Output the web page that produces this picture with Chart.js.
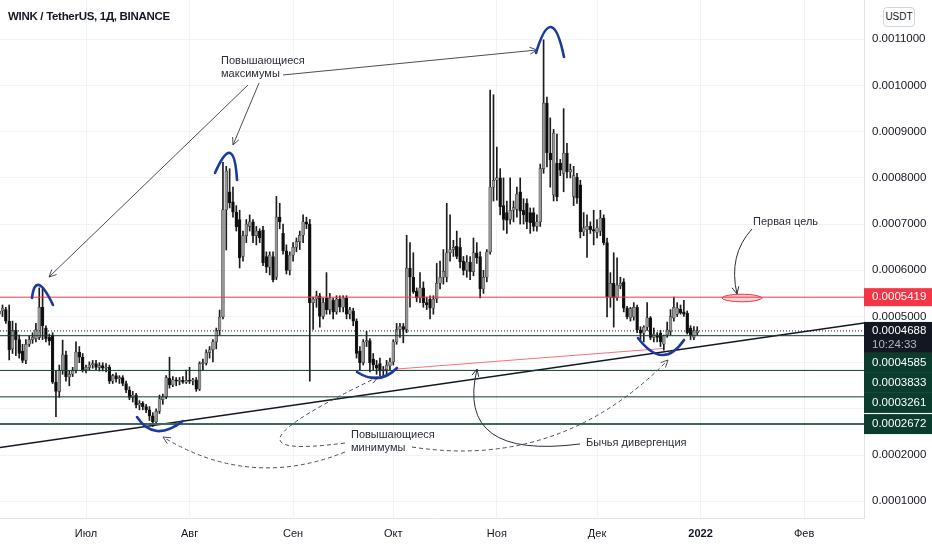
<!DOCTYPE html>
<html lang="ru">
  <head>
    <meta charset="UTF-8" />
    <title>WINK / TetherUS, 1Д, BINANCE</title>
    <script src="https://cdn.jsdelivr.net/npm/chart.js"></script>
    <style>
      body { margin: 0; background: #ffffff; }
      .janela { position: relative; width: 932px; height: 550px; }
      .titulo {
        position: absolute; left: 8px; top: 10px;
        font: bold 11.5px "Liberation Sans", Arial, sans-serif; color: #131722;
        letter-spacing: -0.3px;
      }
      .moeda {
        position: absolute; left: 883px; top: 7px; width: 30px; height: 18px;
        border: 1px solid #d1d4dc; border-radius: 4px; background: #fff;
        font: 10px "Liberation Sans", Arial, sans-serif; color: #131722;
        text-align: center; line-height: 18px;
      }
    </style>
  </head>
  <body>
    <div class="janela">
      <canvas id="myChart" width="932" height="550"></canvas>
      <div class="titulo">WINK / TetherUS, 1Д, BINANCE</div>
      <div class="moeda">USDT</div>
    </div>

<script>
  // preços em unidades de 0.0001 USDT, um candle por dia a partir de 05/06/2021
  var escalaPreco = 1e-4;
  var primeiroDia = -26; // dias contados a partir de 01/07/2021

  var abertura = [
    5.05, 5.12, 5.15, 4.9, 4.3, 4.7, 4.5, 4.25, 4.05, 4.4, 4.5, 4.52, 4.55, 5.2, 4.75, 4.55, 4.6, 3.58, 3.38, 3.84, 4.17, 3.69, 3.75, 3.83, 4.23, 4.12,
    3.85, 3.9, 3.95, 3.98, 3.9, 3.94, 3.88, 3.9, 3.6, 3.72, 3.65, 3.68, 3.55, 3.41, 3.25, 3.3, 3.08, 3.12, 3.05, 2.98, 2.85, 2.72, 2.95, 3.2, 3.26, 3.66, 3.52, 3.63, 3.6, 3.62, 3.58,
    3.62, 3.6, 3.63, 3.43, 3.98, 3.99, 4.22, 4.28, 4.45, 4.7, 4.99, 7.31, 7.7, 7.48, 7.26, 7.1, 6.3, 6.75, 6.95, 7.05, 6.75, 6.85, 6.87, 6.3, 6.07, 6.3, 5.85, 7.15, 6.8, 6.42, 6.0,
    6.33, 6.5, 6.62, 6.76, 7.05, 7.0, 5.3, 5.38, 5.45, 5.0, 5.4, 5.15, 5.35, 5.1, 5.38, 5.2, 5.4, 5.05, 5.12, 4.9, 4.25, 4.0, 4.45, 4.48, 4.08, 3.95, 3.98, 3.82, 3.85, 3.93,
    4.02, 4.45, 4.72, 4.78, 4.72, 6.05, 5.85, 5.55, 5.4, 5.62, 5.3, 5.38, 5.18, 5.38, 5.72, 5.85, 5.85, 6.38, 6.45, 6.52, 6.5, 6.2, 6.0, 6.18, 5.97, 6.38, 6.3, 5.6, 5.85, 6.4, 7.8,
    7.95, 8.0, 7.4, 7.25, 7.1, 7.3, 7.32, 7.7, 7.3, 7.45, 7.25, 7.25, 6.95, 7.05, 8.2, 9.62, 8.54, 7.63, 8.32, 8.32, 8.1, 8.54, 8.13, 7.6, 8.02, 7.85, 6.83, 6.88, 6.95, 6.88,
    6.82, 6.85, 7.13, 6.6, 5.42, 5.72, 5.4, 5.66, 5.75, 5.18, 4.97, 4.99, 5.2, 4.71, 4.64, 4.77, 4.97, 4.55, 4.6, 4.64, 4.4, 4.6, 4.68, 4.97, 5.05, 5.16, 5.1, 5.07, 4.75, 4.55, 4.65
  ];
  var maxima = [
    5.2, 5.25, 5.2, 5.25, 4.9, 4.85, 4.6, 4.4, 4.5, 4.58, 4.65, 4.85, 5.62, 5.6, 4.8, 4.62, 4.65, 3.82, 3.95, 4.49, 4.25, 3.82, 3.9, 4.45, 4.35, 4.2,
    3.95, 4.02, 4.05, 4.05, 4.0, 4.0, 3.98, 3.95, 3.75, 3.78, 3.72, 3.72, 3.6, 3.48, 3.38, 3.34, 3.18, 3.16, 3.1, 3.05, 2.92, 3.0, 3.3, 3.32, 3.72, 4.12, 3.7, 3.68, 3.68, 3.7, 3.84,
    3.9, 3.66, 3.68, 4.02, 4.08, 4.28, 4.35, 4.5, 4.75, 5.14, 8.34, 8.25, 8.2, 7.8, 7.4, 7.3, 6.85, 7.1, 7.2, 7.1, 6.95, 6.9, 6.95, 6.4, 6.4, 6.4, 7.6, 7.45, 7.0, 6.55, 6.4,
    6.6, 6.7, 6.85, 7.2, 7.15, 7.1, 5.42, 5.55, 5.5, 5.4, 5.95, 5.5, 5.4, 5.45, 5.45, 5.45, 5.45, 5.2, 5.18, 4.95, 4.35, 4.5, 4.68, 4.52, 4.2, 4.05, 4.1, 3.92, 4.05, 4.1,
    4.5, 4.85, 4.85, 4.85, 6.76, 6.6, 6.38, 5.62, 5.95, 5.75, 5.42, 5.45, 5.45, 6.15, 6.2, 6.45, 7.45, 7.2, 6.65, 6.85, 6.7, 6.3, 6.32, 6.3, 6.7, 6.6, 6.4, 6.0, 6.45, 9.9, 9.8,
    8.67, 8.2, 8.0, 7.5, 8.0, 7.5, 7.8, 8.0, 7.55, 7.55, 7.35, 7.35, 7.2, 8.3, 10.99, 9.75, 9.3, 9.05, 8.95, 8.4, 9.5, 8.75, 8.3, 8.25, 8.1, 7.95, 7.25, 7.2, 7.05, 7.3,
    7.1, 7.3, 7.2, 6.7, 5.95, 6.38, 6.27, 5.85, 5.82, 5.22, 5.2, 5.3, 5.25, 4.78, 4.8, 5.3, 5.0, 4.75, 4.65, 4.7, 4.6, 4.88, 5.15, 5.42, 5.3, 5.25, 5.35, 5.12, 4.8, 4.78, 4.78
  ];
  var minima = [
    4.9, 5.0, 4.85, 4.06, 4.2, 4.15, 4.1, 4.0, 3.98, 4.35, 4.42, 4.45, 4.5, 4.5, 4.45, 4.38, 3.55, 2.83, 3.25, 3.75, 3.6, 3.5, 3.7, 3.78, 4.0, 3.8,
    3.78, 3.85, 3.88, 3.85, 3.82, 3.82, 3.8, 3.55, 3.55, 3.58, 3.55, 3.5, 3.35, 3.2, 3.15, 3.02, 2.98, 2.98, 2.92, 2.75, 2.62, 2.66, 2.9, 3.1, 3.22, 3.45, 3.48, 3.5, 3.52, 3.55, 3.55,
    3.55, 3.52, 3.38, 3.4, 3.85, 3.95, 4.1, 4.02, 4.3, 4.6, 4.95, 6.44, 7.35, 7.15, 6.85, 6.05, 6.2, 6.6, 6.85, 6.6, 6.55, 6.6, 6.1, 5.95, 5.9, 5.75, 5.8, 6.9, 6.35, 5.92, 5.9,
    6.2, 6.4, 6.45, 6.6, 6.9, 3.6, 4.72, 5.2, 4.77, 4.95, 5.05, 5.05, 4.95, 5.05, 5.1, 5.1, 4.95, 4.95, 4.8, 4.1, 3.85, 3.95, 4.35, 3.8, 3.85, 3.75, 3.72, 3.68, 3.75, 3.85,
    3.95, 4.4, 4.55, 4.43, 4.65, 5.2, 5.5, 5.32, 5.3, 5.2, 5.15, 4.95, 5.05, 5.3, 5.6, 5.7, 5.75, 6.2, 6.3, 6.25, 6.05, 5.9, 5.85, 5.8, 5.88, 6.15, 5.4, 5.5, 5.75, 6.35, 7.5,
    7.52, 7.2, 6.87, 6.8, 7.0, 7.05, 7.15, 7.0, 7.0, 6.9, 6.8, 6.85, 6.85, 6.95, 8.1, 8.24, 7.8, 7.5, 7.5, 8.05, 7.7, 8.0, 8.0, 7.4, 7.45, 6.7, 6.75, 6.28, 6.8, 6.55,
    6.7, 6.75, 6.55, 4.99, 5.2, 4.77, 5.35, 5.6, 5.1, 4.95, 4.9, 4.92, 4.65, 4.5, 4.45, 4.7, 4.5, 4.45, 4.45, 4.35, 4.27, 4.55, 4.6, 4.9, 5.0, 5.05, 5.0, 4.62, 4.5, 4.5, 4.6
  ];
  var fechamento = [
    5.12, 5.18, 4.9, 4.28, 4.7, 4.5, 4.2, 4.05, 4.4, 4.5, 4.55, 4.72, 5.2, 4.8, 4.52, 4.47, 3.58, 3.38, 3.84, 4.17, 3.69, 3.75, 3.83, 4.23, 4.12, 3.85,
    3.9, 3.95, 3.98, 3.9, 3.94, 3.88, 3.9, 3.6, 3.72, 3.65, 3.68, 3.55, 3.41, 3.25, 3.3, 3.08, 3.12, 3.05, 2.98, 2.85, 2.72, 2.95, 3.22, 3.26, 3.68, 3.52, 3.63, 3.6, 3.62, 3.58, 3.62,
    3.6, 3.63, 3.43, 3.98, 3.99, 4.22, 4.28, 4.45, 4.7, 4.99, 7.31, 8.15, 7.46, 7.26, 6.94, 6.27, 6.75, 7.0, 7.05, 6.75, 6.85, 6.7, 6.16, 6.07, 6.33, 5.79, 7.15, 7.05, 6.42, 6.0, 6.33,
    6.5, 6.62, 6.76, 7.05, 7.0, 5.3, 5.38, 5.45, 5.0, 5.3, 5.15, 5.4, 5.1, 5.38, 5.2, 5.4, 5.05, 5.15, 4.9, 4.2, 4.0, 4.45, 4.48, 4.0, 3.95, 3.88, 3.82, 3.85, 3.95, 4.02,
    4.45, 4.72, 4.78, 4.72, 6.05, 5.85, 5.53, 5.4, 5.62, 5.3, 5.25, 5.18, 5.38, 5.72, 5.85, 5.98, 6.38, 6.45, 6.5, 6.3, 6.18, 6.0, 6.18, 5.97, 6.38, 6.27, 5.6, 5.85, 6.4, 7.8, 7.95,
    8.0, 7.37, 7.1, 7.08, 7.3, 7.36, 7.65, 7.28, 7.2, 7.05, 7.03, 6.95, 7.05, 8.2, 9.62, 8.54, 8.39, 8.97, 7.59, 8.17, 8.54, 8.13, 8.18, 8.05, 7.56, 6.83, 6.92, 6.95, 6.88, 6.85,
    6.92, 7.13, 6.6, 5.42, 5.72, 5.4, 5.68, 5.72, 5.18, 4.99, 5.17, 5.2, 4.71, 4.64, 4.77, 4.97, 4.55, 4.62, 4.55, 4.45, 4.58, 4.71, 5.0, 5.2, 5.18, 5.08, 5.05, 4.65, 4.6, 4.7, 4.688
  ];

  var meses = ["Июл", "Авг", "Сен", "Окт", "Ноя", "Дек", "2022", "Фев"];
  var diasMes = [0, 31, 62, 92, 123, 153, 184, 215];

  // níveis horizontais e etiquetas do eixo de preço
  var nivelAlvo = 5.419;
  var precoAtual = 4.688;
  var tempoRestante = "10:24:33";
  var niveisVerdes = [4.585, 3.833, 3.261, 2.672];

  // faixa visível: [dia, dia] e [preço, preço]
  var eixoX = [-25.75, 232.93];
  var eixoY = [0.639, 11.851];

  // desenhos do autor, em coordenadas [dia, preço]
  var linhaSuporte = [[-25.75, 2.165], [232.93, 4.86]];
  var linhaDivergencia = [[93.11, 3.864], [172.75, 4.308]];
  var arcosAzuis = [
    [[-16.17, 5.401], [-14.07, 5.682], [-9.88, 5.25]],
    [[38.62, 8.106], [43.11, 8.539], [45.21, 7.955]],
    [[134.73, 10.704], [139.22, 11.267], [143.11, 10.617]],
    [[15.27, 2.825], [21.26, 2.522], [29.04, 2.738]],
    [[81.14, 3.799], [87.43, 3.669], [93.11, 3.886]],
    [[165.27, 4.535], [172.46, 4.167], [179.04, 4.492]]
  ];
  var setas = [
    [[48.5, 10.011], [-11.08, 5.855]],
    [[51.8, 10.055], [44.01, 8.713]],
    [[58.98, 10.228], [135.03, 10.769]]
  ];
  // [início, controle, fim]
  var curvasTracejadas = [
    [[77.54, 2.067], [49.1, 1.245], [23.05, 2.392]],
    [[77.54, 2.262], [34.13, 1.851], [87.43, 3.691]],
    [[97.6, 2.176], [141.92, 1.678], [174.25, 4.059]]
  ];
  var curvasSolidas = [
    [[147.9, 2.241], [110.48, 1.894], [117.07, 3.864]],
    [[199.4, 6.894], [192.22, 6.332], [194.91, 5.487]]
  ];
  var textos = [
    ["Повышающиеся", 40.42, 10.53],
    ["максимумы", 40.42, 10.25],
    ["Повышающиеся", 79.34, 2.435],
    ["минимумы", 79.34, 2.154],
    ["Бычья дивергенция", 149.7, 2.262],
    ["Первая цель", 199.7, 7.046]
  ];
  var alvo = [196.41, 5.401];

  var dias = abertura.map(function (v, i) { return primeiroDia + i; });

  function linha(pontos) {
    return pontos.map(function (p) { return { x: p[0], y: p[1] * escalaPreco }; });
  }
  function horizontal(v) {
    return linha([[eixoX[0], v], [eixoX[1], v]]);
  }
  function traco(dados, cor, largura, tracejado) {
    return {
      type: "line", data: dados, borderColor: cor, borderWidth: largura,
      borderDash: tracejado || [], pointRadius: 0, tension: 0, order: 0
    };
  }

  var pavios = dias.map(function (d, i) {
    return { x: d, y: [minima[i] * escalaPreco, maxima[i] * escalaPreco] };
  });
  var corpos = dias.map(function (d, i) {
    return { x: d, y: [abertura[i] * escalaPreco, fechamento[i] * escalaPreco] };
  });
  var coresCorpo = fechamento.map(function (c, i) {
    return c >= abertura[i] ? "#969696" : "#0d0d0d";
  });

  function curva(ctx, pts) {
    ctx.beginPath();
    ctx.moveTo(pts[0][0], pts[0][1]);
    ctx.quadraticCurveTo(pts[1][0], pts[1][1], pts[2][0], pts[2][1]);
    ctx.stroke();
  }
  function ponta(ctx, de, para) {
    var ang = Math.atan2(para[1] - de[1], para[0] - de[0]);
    var L = 8;
    ctx.beginPath();
    ctx.moveTo(para[0] - L * Math.cos(ang - 0.45), para[1] - L * Math.sin(ang - 0.45));
    ctx.lineTo(para[0], para[1]);
    ctx.lineTo(para[0] - L * Math.cos(ang + 0.45), para[1] - L * Math.sin(ang + 0.45));
    ctx.stroke();
  }

  var desenhos = {
    id: "desenhos",
    afterDatasetsDraw: function (chart) {
      var ctx = chart.ctx, sx = chart.scales.x, sy = chart.scales.y, a = chart.chartArea;
      function P(p) { return [sx.getPixelForValue(p[0]), sy.getPixelForValue(p[1] * escalaPreco)]; }

      ctx.save();
      ctx.beginPath();
      ctx.rect(a.left, a.top, a.right - a.left, a.bottom - a.top);
      ctx.clip();

      // setas retas
      ctx.strokeStyle = "#4a4e59";
      ctx.lineWidth = 1;
      setas.forEach(function (s) {
        var de = P(s[0]), para = P(s[1]);
        ctx.beginPath();
        ctx.moveTo(de[0], de[1]);
        ctx.lineTo(para[0], para[1]);
        ctx.stroke();
        ponta(ctx, de, para);
      });

      // curvas tracejadas
      ctx.setLineDash([4, 3]);
      curvasTracejadas.forEach(function (c) {
        curva(ctx, c.map(P));
      });
      ctx.setLineDash([]);
      curvasTracejadas.forEach(function (c) {
        var pts = c.map(P);
        ponta(ctx, pts[1], pts[2]);
      });

      // curvas sólidas
      ctx.strokeStyle = "#2a2e39";
      curvasSolidas.forEach(function (c) {
        var pts = c.map(P);
        curva(ctx, pts);
        ponta(ctx, pts[1], pts[2]);
      });

      // arcos azuis (passam pelos três pontos)
      ctx.strokeStyle = "#1a3a9e";
      ctx.lineWidth = 2.6;
      ctx.lineCap = "round";
      arcosAzuis.forEach(function (arco) {
        var p = arco.map(P);
        var ctrl = [2 * p[1][0] - (p[0][0] + p[2][0]) / 2, 2 * p[1][1] - (p[0][1] + p[2][1]) / 2];
        curva(ctx, [p[0], ctrl, p[2]]);
      });

      // elipse do alvo
      var c = P(alvo);
      ctx.beginPath();
      ctx.ellipse(c[0], c[1], 20, 3.8, 0, 0, Math.PI * 2);
      ctx.fillStyle = "rgba(242, 54, 69, 0.22)";
      ctx.fill();
      ctx.strokeStyle = "#f23645";
      ctx.lineWidth = 1;
      ctx.stroke();

      // textos
      ctx.fillStyle = "#2a2e39";
      ctx.font = '11px "Liberation Sans", Arial, sans-serif';
      ctx.textBaseline = "middle";
      ctx.textAlign = "left";
      textos.forEach(function (t) {
        var p = P([t[1], t[2]]);
        ctx.fillText(t[0], p[0], p[1]);
      });
      ctx.restore();
    },
    afterDraw: function (chart) {
      var ctx = chart.ctx, sy = chart.scales.y, a = chart.chartArea;
      var x0 = a.right, larg = chart.width - a.right;
      ctx.save();
      ctx.font = '11.5px "Liberation Sans", Arial, sans-serif';
      ctx.textBaseline = "middle";
      ctx.textAlign = "left";

      function caixa(topo, alt, cor) {
        ctx.fillStyle = cor;
        ctx.fillRect(x0, topo, larg, alt);
      }

      var yAlvo = sy.getPixelForValue(nivelAlvo * escalaPreco);
      caixa(yAlvo - 9, 18, "#f23645");
      ctx.fillStyle = "#ffffff";
      ctx.fillText((nivelAlvo * escalaPreco).toFixed(7), x0 + 8, yAlvo);

      var yAtual = sy.getPixelForValue(precoAtual * escalaPreco);
      var topo = Math.max(yAtual - 9, yAlvo + 9);
      caixa(topo, 31, "#131722");
      ctx.fillStyle = "#ffffff";
      ctx.fillText((precoAtual * escalaPreco).toFixed(7), x0 + 8, topo + 9);
      ctx.fillStyle = "#b2b5be";
      ctx.fillText(tempoRestante, x0 + 8, topo + 23);
      var fundo = topo + 31;

      niveisVerdes.forEach(function (v) {
        var yv = sy.getPixelForValue(v * escalaPreco);
        var t = Math.max(yv - 10, fundo);
        caixa(t, 20, "#0b3d2f");
        ctx.fillStyle = "#ffffff";
        ctx.fillText((v * escalaPreco).toFixed(7), x0 + 8, t + 10);
        fundo = t + 20;
      });
      ctx.restore();
    }
  };

  var datasets = [
    traco(horizontal(nivelAlvo), "#f23645", 1),
    traco(horizontal(precoAtual), "#131722", 1, [1, 2]),
    traco(horizontal(niveisVerdes[0]), "#0b3d2f", 1),
    traco(horizontal(niveisVerdes[1]), "#0b3d2f", 1),
    traco(horizontal(niveisVerdes[2]), "#0b3d2f", 1),
    traco(horizontal(niveisVerdes[3]), "#3d6a5d", 2),
    traco(linha(linhaSuporte), "#131722", 1.3),
    traco(linha(linhaDivergencia), "#f5727b", 1.2),
    {
      type: "bar", data: corpos, backgroundColor: coresCorpo, borderColor: "#262626",
      borderWidth: 0.5, borderSkipped: false, barThickness: 2.8, minBarLength: 1,
      grouped: false, order: 1
    },
    {
      type: "bar", data: pavios, backgroundColor: "#1c1c1c",
      barThickness: 1, grouped: false, order: 2
    }
  ];

  var fonteEixo = { family: "Liberation Sans", size: 11.5 };

  new Chart(document.getElementById("myChart"), {
    type: "bar",
    data: { datasets: datasets },
    options: {
      responsive: false,
      animation: false,
      events: [],
      layout: { padding: 0 },
      plugins: { legend: { display: false }, tooltip: { enabled: false } },
      scales: {
        x: {
          type: "linear",
          min: eixoX[0],
          max: eixoX[1],
          offset: false,
          afterBuildTicks: function (s) {
            s.ticks = diasMes.map(function (v) { return { value: v }; });
          },
          afterFit: function (s) {
            s.height = 32;
            s.paddingLeft = 0;
            s.paddingRight = 0;
          },
          ticks: {
            autoSkip: false,
            maxRotation: 0,
            padding: 9,
            color: "#131722",
            font: function (c) {
              var negrito = c.tick && c.tick.value === 184;
              return { family: "Liberation Sans", size: 11, weight: negrito ? "bold" : "normal" };
            },
            callback: function (v) { return meses[diasMes.indexOf(v)]; }
          },
          grid: { color: "#f0f3fa", drawTicks: false, offset: false },
          border: { color: "#e0e3eb" }
        },
        y: {
          position: "right",
          min: eixoY[0] * escalaPreco,
          max: eixoY[1] * escalaPreco,
          afterFit: function (s) {
            s.width = 68;
            s.paddingTop = 0;
            s.paddingBottom = 0;
          },
          ticks: {
            stepSize: escalaPreco,
            includeBounds: false,
            padding: 8,
            color: "#131722",
            font: fonteEixo,
            callback: function (v) { return v.toFixed(7); }
          },
          grid: { color: "#f0f3fa", drawTicks: false },
          border: { color: "#e0e3eb" }
        }
      }
    },
    plugins: [desenhos]
  });
</script>
  </body>
</html>
